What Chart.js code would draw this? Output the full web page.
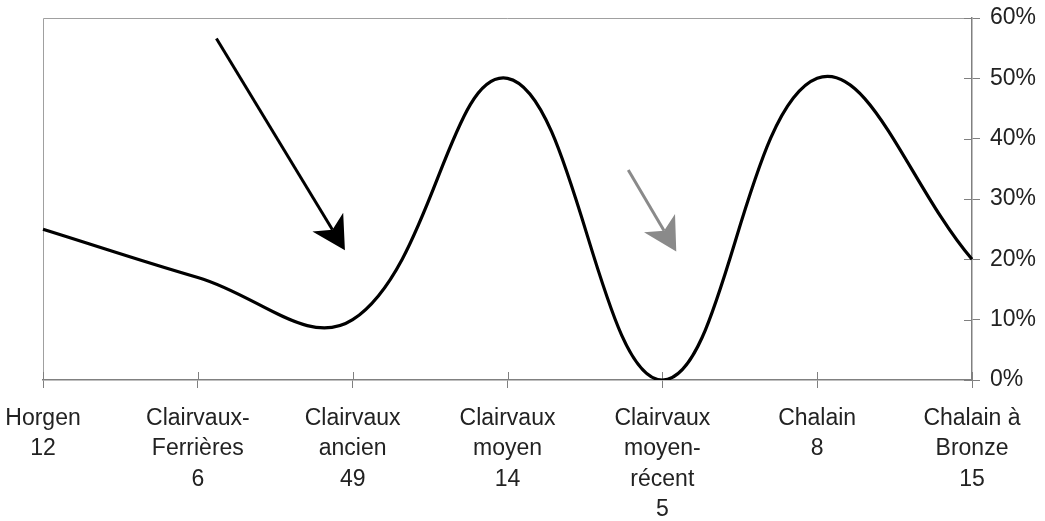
<!DOCTYPE html>
<html>
<head>
<meta charset="utf-8">
<script src="https://cdn.jsdelivr.net/npm/chart.js@4/dist/chart.umd.min.js"></script>
<style>
  html, body { margin: 0; padding: 0; background: #fff; }
  #wrap { width: 1045px; height: 521px; }
</style>
</head>
<body>
<div id="wrap"><canvas id="chart"></canvas></div>
<script>
// site names (split over lines) and number of items per site
const siteNames = [
    ["Horgen"],
    ["Clairvaux-", "Ferrières"],
    ["Clairvaux", "ancien"],
    ["Clairvaux", "moyen"],
    ["Clairvaux", "moyen-", "récent"],
    ["Chalain"],
    ["Chalain à", "Bronze"]
];
const siteCounts = [12, 6, 49, 14, 5, 8, 15];
// share in percent
const shareValues = [25, 17, 10, 50, 0, 50, 20];
const yTicks = [0, 10, 20, 30, 40, 50, 60];

// arrows, in axis units: [category index, percent]
const arrowNotes = [
    {from: [1.12, 56.6], to: [1.95, 21.5], color: "#000"},
    {from: [3.78, 34.8], to: [4.09, 21.3], color: "#8a8a8a"}
];

const labels = siteNames.map((lines, i) => lines.concat(String(siteCounts[i])));

const axisGray = "#808080";

const framePlugin = {
    id: "frame",
    beforeDatasetsDraw(chart) {
        const {ctx, chartArea: a} = chart;
        ctx.save();
        ctx.strokeStyle = "#a0a0a0";
        ctx.lineWidth = 1;
        ctx.beginPath();
        ctx.moveTo(a.left + 0.5, a.bottom);
        ctx.lineTo(a.left + 0.5, a.top + 0.5);
        ctx.lineTo(a.right, a.top + 0.5);
        ctx.stroke();

        // inner half of the crossing tick marks
        ctx.strokeStyle = axisGray;
        ctx.beginPath();
        const x = chart.scales.x, y = chart.scales.y;
        x.ticks.forEach((t, i) => {
            const px = Math.round(x.getPixelForTick(i)) + 0.5;
            ctx.moveTo(px, a.bottom);
            ctx.lineTo(px, a.bottom - 8);
        });
        y.ticks.forEach((t, i) => {
            const py = Math.round(y.getPixelForTick(i)) + 0.5;
            ctx.moveTo(a.right, py);
            ctx.lineTo(a.right - 8, py);
        });
        ctx.stroke();
        ctx.restore();
    }
};

const arrowPlugin = {
    id: "arrows",
    afterDatasetsDraw(chart) {
        const {ctx} = chart;
        const x = chart.scales.x, y = chart.scales.y;
        ctx.save();
        arrowNotes.forEach(a => {
            const x0 = x.getPixelForValue(a.from[0]), y0 = y.getPixelForValue(a.from[1]);
            const x1 = x.getPixelForValue(a.to[0]), y1 = y.getPixelForValue(a.to[1]);
            const len = Math.hypot(x1 - x0, y1 - y0);
            const ux = (x1 - x0) / len, uy = (y1 - y0) / len;
            const nx = -uy, ny = ux;
            const headLen = 33, headHalf = 18, notch = 24;

            ctx.strokeStyle = a.color;
            ctx.fillStyle = a.color;
            ctx.lineWidth = 3;
            ctx.beginPath();
            ctx.moveTo(x0, y0);
            ctx.lineTo(x1 - notch * ux, y1 - notch * uy);
            ctx.stroke();

            ctx.beginPath();
            ctx.moveTo(x1, y1);
            ctx.lineTo(x1 - headLen * ux + headHalf * nx, y1 - headLen * uy + headHalf * ny);
            ctx.lineTo(x1 - notch * ux, y1 - notch * uy);
            ctx.lineTo(x1 - headLen * ux - headHalf * nx, y1 - headLen * uy - headHalf * ny);
            ctx.closePath();
            ctx.fill();
        });
        ctx.restore();
    }
};

const tickFont = {family: "'Liberation Sans', Arial, sans-serif", size: 23, lineHeight: 1.33};

new Chart(document.getElementById("chart"), {
    type: "line",
    data: {
        labels: labels,
        datasets: [{
            data: shareValues,
            borderColor: "#000",
            borderWidth: 3.2,
            pointRadius: 0,
            tension: 0.4,
            fill: false
        }]
    },
    options: {
        responsive: true,
        maintainAspectRatio: false,
        animation: false,
        layout: {padding: {top: 18, left: 43, right: 0, bottom: 0}},
        plugins: {legend: {display: false}, tooltip: {enabled: false}},
        scales: {
            x: {
                offset: false,
                grid: {drawOnChartArea: false, color: axisGray, tickLength: 8},
                border: {color: axisGray, width: 1.5},
                ticks: {color: "#222", font: tickFont, padding: 15, maxRotation: 0, autoSkip: false},
                afterFit(scale) {
                    scale.height = 141;
                    scale.paddingLeft = 0;
                    scale.paddingRight = 0;
                }
            },
            y: {
                position: "right",
                min: 0,
                max: 60,
                afterBuildTicks(scale) { scale.ticks = yTicks.map(v => ({value: v})); },
                grid: {drawOnChartArea: false, color: axisGray, tickLength: 8},
                border: {color: axisGray, width: 1.5},
                ticks: {color: "#222", font: tickFont, padding: 10, callback: v => v + "%"},
                afterFit(scale) {
                    scale.width = 73;
                    scale.paddingTop = 0;
                    scale.paddingBottom = 0;
                }
            }
        }
    },
    plugins: [framePlugin, arrowPlugin]
});
</script>
</body>
</html>
